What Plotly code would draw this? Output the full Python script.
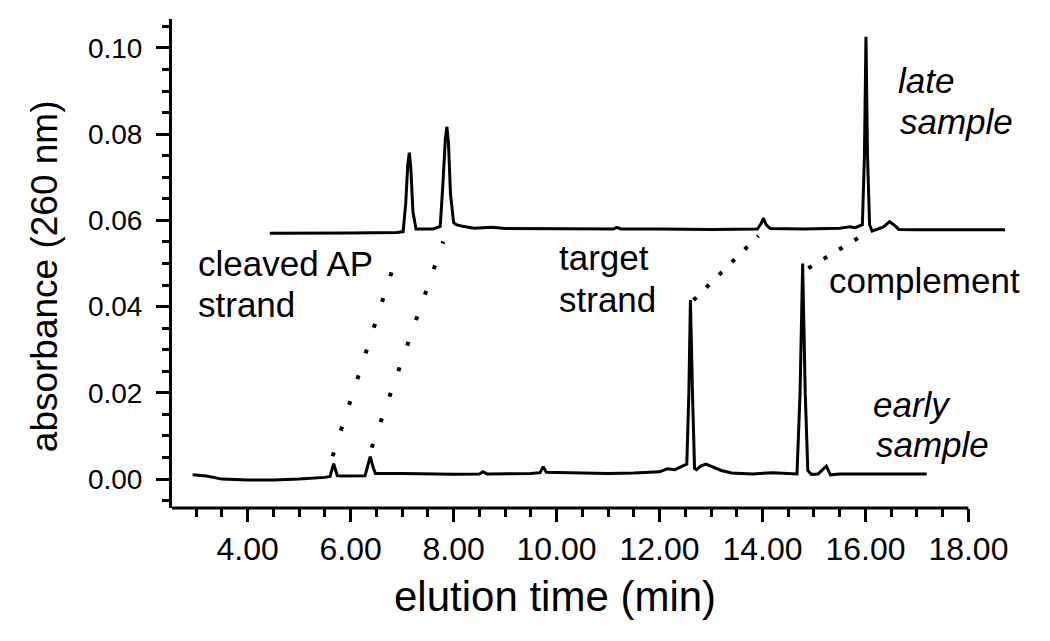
import plotly.graph_objects as go

# early sample trace (elution time in min, absorbance at 260 nm)
early_time = [2.93, 3.2, 3.5, 4.0, 4.5, 5.0, 5.5, 5.60, 5.67, 5.74, 5.8, 6.28, 6.33, 6.38, 6.43, 6.48,
              7.0, 7.5, 8.0, 8.5, 8.57, 8.65, 9.0, 9.5, 9.68, 9.74, 9.80, 10.0, 10.5, 11.0, 11.5,
              12.0, 12.15, 12.3, 12.45, 12.53, 12.57, 12.60, 12.64, 12.68, 12.72, 12.8, 12.9, 13.0,
              13.2, 13.4, 13.8, 14.2, 14.5, 14.67, 14.73, 14.78, 14.83, 14.88, 14.95, 15.08, 15.24,
              15.32, 15.5, 16.0, 17.19]
early_abs = [0.0010, 0.0007, 0.0000, -0.0002, -0.0002, 0.0000, 0.0004, 0.0006, 0.0036, 0.0008, 0.0007,
             0.0008, 0.0030, 0.0052, 0.0030, 0.0013, 0.0013, 0.0012, 0.0011, 0.0012, 0.0017, 0.0012,
             0.0012, 0.0013, 0.0015, 0.0029, 0.0016, 0.0015, 0.0014, 0.0013, 0.0014, 0.0017, 0.0024,
             0.0022, 0.0030, 0.0035, 0.0200, 0.0415, 0.0200, 0.0025, 0.0022, 0.0030, 0.0035, 0.0030,
             0.0020, 0.0014, 0.0012, 0.0015, 0.0014, 0.0012, 0.0200, 0.0500, 0.0200, 0.0020, 0.0011,
             0.0012, 0.0030, 0.0010, 0.0012, 0.0012, 0.0012]

# late sample trace
late_time = [4.43, 5.0, 6.0, 6.9, 7.02, 7.07, 7.11, 7.14, 7.17, 7.21, 7.27, 7.6, 7.74, 7.79, 7.84, 7.87,
             7.90, 7.94, 8.0, 8.05, 8.15, 8.4, 8.75, 9.0, 10.0, 11.1, 11.17, 11.25, 12.0, 13.0, 13.9,
             13.97, 14.02, 14.07, 14.15, 14.8, 15.5, 15.7, 15.8, 15.88, 15.94, 15.98, 16.01, 16.04,
             16.08, 16.13, 16.2, 16.35, 16.47, 16.55, 16.65, 17.0, 18.71]
late_abs = [0.0570, 0.0570, 0.0571, 0.0572, 0.0574, 0.0640, 0.0730, 0.0757, 0.0720, 0.0620, 0.0580,
            0.0580, 0.0586, 0.0680, 0.0790, 0.0817, 0.0780, 0.0660, 0.0595, 0.0590, 0.0587, 0.0582,
            0.0584, 0.0581, 0.0580, 0.0580, 0.0584, 0.0580, 0.0580, 0.0579, 0.0580, 0.0592, 0.0605,
            0.0590, 0.0581, 0.0580, 0.0582, 0.0585, 0.0583, 0.0588, 0.0590, 0.0750, 0.1026, 0.0750,
            0.0590, 0.0575, 0.0578, 0.0585, 0.0597, 0.0590, 0.0579, 0.0578, 0.0578]

# dotted guides linking matching peaks (early -> late)
link_time = [[5.65, 6.93], [6.41, 7.80], [12.66, 13.92], [14.89, 16.06]]
link_abs = [[0.0053, 0.0530], [0.0073, 0.0551], [0.0415, 0.0564], [0.0489, 0.0574]]
link_dash = ["4px,23px", "4px,23px", "4px,14px", "4px,14px"]

# labels: one entry per text line (x = left edge, y = line centre)
label_text = ['cleaved AP', 'strand', 'target', 'strand', 'complement',
              '<i>late</i>', '<i>sample</i>', '<i>early</i>', '<i>sample</i>']
label_x = [3.0, 3.0, 10.0, 10.0, 15.26, 16.60, 16.63, 16.10, 16.16]
label_y = [0.0500, 0.0405, 0.0515, 0.0417, 0.0461, 0.0925, 0.0830, 0.0174, 0.0081]

x_major = [4, 6, 8, 10, 12, 14, 16, 18]
x_minor = [3.0, 3.5, 4.5, 5.0, 5.5, 6.5, 7.0, 7.5, 8.5, 9.0, 9.5, 10.5, 11.0, 11.5,
           12.5, 13.0, 13.5, 14.5, 15.0, 15.5, 16.5, 17.0, 17.5]
y_major = [0.00, 0.02, 0.04, 0.06, 0.08, 0.10]
y_minor = [-0.005, 0.005, 0.01, 0.015, 0.025, 0.03, 0.035, 0.045, 0.05, 0.055,
           0.065, 0.07, 0.075, 0.085, 0.09, 0.095, 0.105]

xmin, xmax = 2.53, 18.73
ymin, ymax = -0.0067, 0.1067

fig = go.Figure()
for lt, la, ld in zip(link_time, link_abs, link_dash):
    fig.add_trace(go.Scatter(x=lt, y=la, mode='lines',
                             line=dict(color='black', width=4, dash=ld)))
fig.add_trace(go.Scatter(x=early_time, y=early_abs, mode='lines',
                         line=dict(color='black', width=3)))
fig.add_trace(go.Scatter(x=late_time, y=late_abs, mode='lines',
                         line=dict(color='black', width=3)))

txt = dict(family='Liberation Sans, Arial, sans-serif', size=35, color='black')
for t, lx, ly in zip(label_text, label_x, label_y):
    fig.add_annotation(x=lx, y=ly, text=t, xanchor='left', yanchor='middle',
                       showarrow=False, font=txt)

# axis titles
fig.add_annotation(xref='paper', yref='paper', x=-0.1535, y=0.474, text='absorbance (260 nm)',
                   textangle=-90, showarrow=False, xanchor='center', yanchor='middle',
                   font=dict(family='Liberation Sans, Arial, sans-serif', size=37, color='black'))
fig.add_annotation(xref='paper', yref='paper', x=0.459, y=-0.182, text='elution time (min)',
                   showarrow=False, xanchor='center', yanchor='middle',
                   font=dict(family='Liberation Sans, Arial, sans-serif', size=42, color='black'))

# x axis line stops at 18 while the late trace runs past it
fig.add_shape(type='line', xref='x', yref='paper', x0=xmin, x1=18.0, y0=0, y1=0,
              line=dict(color='black', width=3))

fig.update_layout(
    width=1050, height=641,
    margin=dict(l=172, r=44, t=19, b=133),
    plot_bgcolor='white', paper_bgcolor='white',
    showlegend=False,
    xaxis=dict(range=[xmin, xmax], showgrid=False, zeroline=False, showline=False,
               tickmode='array', tickvals=x_major, tickformat='.2f',
               ticks='outside', ticklen=13, tickwidth=2.5, tickcolor='black',
               minor=dict(tickmode='array', tickvals=x_minor, ticks='outside', ticklen=8,
                          tickwidth=2.5, tickcolor='black'),
               tickfont=dict(family='Liberation Sans Narrow, Arial Narrow, sans-serif', size=32, color='black')),
    yaxis=dict(range=[ymin, ymax], showgrid=False, zeroline=False, showline=True,
               linecolor='black', linewidth=3,
               tickmode='array', tickvals=y_major, tickformat='.2f',
               ticks='outside', ticklen=13, tickwidth=2.5, tickcolor='black',
               minor=dict(tickmode='array', tickvals=y_minor, ticks='outside', ticklen=7,
                          tickwidth=2.5, tickcolor='black'),
               ticklabelstandoff=8,
               tickfont=dict(family='Liberation Sans, Arial, sans-serif', size=28, color='black')),
)

# drop the default body margin so the figure sits at the window's corner
fig.write_html("out.html", config={'displayModeBar': False},
               post_script="document.body.style.margin='0';")
